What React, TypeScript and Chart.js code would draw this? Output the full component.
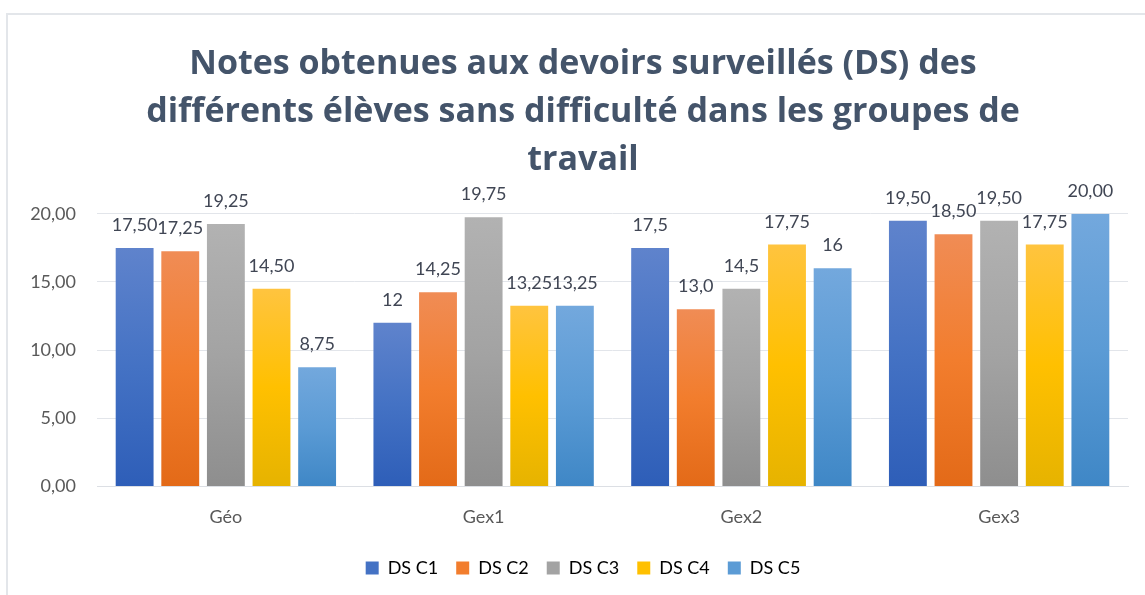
import React, { useEffect, useRef } from "react";
import { Chart, registerables } from "chart.js";

Chart.register(...registerables);

const categories = ["Géo", "Gex1", "Gex2", "Gex3"];
const seriesNames = ["DS C1", "DS C2", "DS C3", "DS C4", "DS C5"];
const dsC1 = [17.5, 12, 17.5, 19.5];
const dsC2 = [17.25, 14.25, 13.0, 18.5];
const dsC3 = [19.25, 19.75, 14.5, 19.5];
const dsC4 = [14.5, 13.25, 17.75, 17.75];
const dsC5 = [8.75, 13.25, 16, 20];
const labelsC1 = ["17,50", "12", "17,5", "19,50"];
const labelsC2 = ["17,25", "14,25", "13,0", "18,50"];
const labelsC3 = ["19,25", "19,75", "14,5", "19,50"];
const labelsC4 = ["14,50", "13,25", "17,75", "17,75"];
const labelsC5 = ["8,75", "13,25", "16", "20,00"];
const titleLines = [
  "Notes obtenues aux devoirs surveillés (DS) des",
  "différents élèves sans difficulté dans les groupes de",
  "travail",
];

const seriesValues = [dsC1, dsC2, dsC3, dsC4, dsC5];
const seriesLabels = [labelsC1, labelsC2, labelsC3, labelsC4, labelsC5];
const palette = [
  ["#5f83cc", "#4472c4", "#2e5eb8"],
  ["#f08c55", "#f27d2d", "#e36a18"],
  ["#b2b2b2", "#a3a3a3", "#8e8e8e"],
  ["#ffc43f", "#ffc000", "#e6b300"],
  ["#73a8dd", "#5b9bd5", "#3f87c6"],
];

function makeGrad(cols: string[]) {
  return (ctx: any) => {
    const chart = ctx.chart;
    const area = chart.chartArea;
    if (!area || ctx.type !== "data" || !chart.scales.y) return cols[1];
    const y = chart.scales.y;
    const y0 = y.getPixelForValue(ctx.raw);
    const y1 = y.getPixelForValue(0);
    if (!isFinite(y0) || !isFinite(y1) || y0 === y1) return cols[1];
    const g = chart.ctx.createLinearGradient(0, y0, 0, y1);
    g.addColorStop(0, cols[0]);
    g.addColorStop(0.5, cols[1]);
    g.addColorStop(1, cols[2]);
    return g;
  };
}

const dataLabelPlugin = {
  id: "dataLabelPlugin",
  afterDatasetsDraw(chart: any) {
    const ctx = chart.ctx;
    ctx.save();
    ctx.font = "18px Lato";
    ctx.fillStyle = "#404654";
    ctx.textAlign = "center";
    ctx.textBaseline = "alphabetic";
    chart.data.datasets.forEach((_: any, i: number) => {
      const meta = chart.getDatasetMeta(i);
      meta.data.forEach((bar: any, j: number) => {
        ctx.fillText(seriesLabels[i][j], bar.x, bar.y - 17);
      });
    });
    ctx.restore();
  },
};

export default function App() {
  const ref = useRef<HTMLCanvasElement>(null);
  useEffect(() => {
    if (!ref.current) return;
    const chart = new Chart(ref.current, {
      type: "bar",
      data: {
        labels: categories,
        datasets: seriesNames.map((name, i) => ({
          label: name,
          data: seriesValues[i],
          backgroundColor: makeGrad(palette[i]),
          borderWidth: 0,
          categoryPercentage: 0.885,
          barPercentage: 0.83,
        })),
      },
      options: {
        responsive: false,
        animation: false,
        layout: { padding: { left: 38, right: 17, top: 40, bottom: 8 } },
        plugins: {
          title: {
            display: true,
            text: titleLines,
            color: "#44546a",
            font: { family: "Open Sans", size: 34, weight: "bold", lineHeight: 1.42 },
            padding: { top: 0, bottom: 29 },
          },
          legend: {
            position: "bottom",
            labels: {
              boxWidth: 13,
              boxHeight: 13,
              padding: 18,
              color: "#595959",
              font: { family: "Lato", size: 18 },
              generateLabels: () =>
                seriesNames.map((n, i) => ({
                  text: n,
                  fillStyle: palette[i][1],
                  strokeStyle: palette[i][1],
                  lineWidth: 0,
                  hidden: false,
                  datasetIndex: i,
                })),
            },
          },
          tooltip: { enabled: false },
        },
        scales: {
          x: {
            grid: { display: false, drawTicks: false },
            border: { display: true, color: "#dcdfe4", width: 1 },
            ticks: { color: "#595959", font: { family: "Lato", size: 18 }, padding: 20 },
            afterFit: (scale: any) => {
              scale.height = scale.height - 7;
            },
          },
          y: {
            min: 0,
            max: 20,
            grid: { color: "#e2e5ea", drawTicks: false },
            border: { display: false },
            ticks: {
              stepSize: 5,
              padding: 21,
              color: "#595959",
              font: { family: "Lato", size: 18 },
              callback: (v: any) => Number(v).toFixed(2).replace(".", ","),
            },
            afterFit: (scale: any) => {
              scale.width = 59;
              scale._computeLabelArea = () => undefined;
            },
          },
        },
      },
      plugins: [dataLabelPlugin],
    });
    return () => chart.destroy();
  }, []);
  return (
    <div style={{ position: "absolute", left: 0, top: 0, width: 1145, height: 595, background: "#fff", overflow: "hidden" }}>
      <div
        style={{
          position: "absolute",
          left: 6,
          top: 13,
          width: 1200,
          height: 700,
          borderLeft: "2px solid #e3e6ea",
          borderTop: "2px solid #e3e6ea",
        }}
      />
      <canvas ref={ref} width={1145} height={595} style={{ position: "absolute", left: 0, top: 0 }} />
    </div>
  );
}
